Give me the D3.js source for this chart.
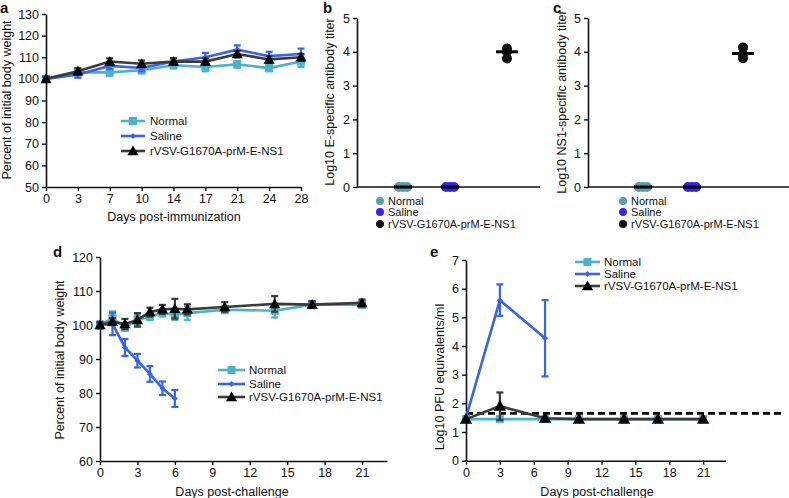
<!DOCTYPE html>
<html><head><meta charset="utf-8">
<script src="https://cdn.jsdelivr.net/npm/d3@7"></script>
<style>
body{margin:0;background:#fff;}
svg{font-family:"Liberation Sans",Arial,Helvetica,sans-serif;}
text{fill:#111;}
</style></head>
<body><svg id="c" width="789" height="498"></svg>
<script>
// ---------- DATA ----------
const seriesNames = ["Normal","Saline","rVSV-G1670A-prM-E-NS1"];
// Panel a
const daysA = ["0","3","7","10","14","17","21","24","28"];
const aNormal = [100,103,103,104,106.3,105.5,106.7,105,108];
const aNormalErr = [1,1.5,1.5,1.5,1.5,2,1.5,1.5,2.5];
const aSaline = [100,102,106,105,108,110,113.5,110.5,111.5];
const aSalineErr = [1,1.5,1.5,1.5,1.5,2,2,2,2.5];
const aVsv = [100,103.5,108,107,108,108,111.5,109,110];
const aVsvErr = [1,1.5,1.5,1.5,1.5,1.5,1.5,1.5,1.5];
const aYTicks = [50,60,70,80,90,100,110,120,130];
// Panel b / c
const groupsBC = ["Normal","Saline","rVSV"];
const bNormal = [0,0,0], bSaline = [0,0,0], bVsv = [4.1,4.0,3.8];
const bMeans = [0,0,4.0];
const cNormal = [0,0,0], cSaline = [0,0,0], cVsv = [4.13,3.93,3.81];
const cMeans = [0,0,3.95];
const bcYTicks = [0,1,2,3,4,5];
// Panel d
const dDaysNormal = [0,1,2,3,4,5,6,7,10,14,17,21];
const dNormal = [100,102,99.3,101.5,102.5,103.5,103,103.5,104.5,104.2,106,106];
const dNormalErr = [1,2,1,1.5,1,1,1.5,2,1,2,1,1];
const dDaysSaline = [0,1,2,3,4,5,6];
const dSaline = [100,100.3,93.4,89.5,85.6,81.4,78.4];
const dSalineErr = [1,3.3,2.5,2,2.3,2,2.5];
const dDaysVsv = [0,1,2,3,4,5,6,7,10,14,17,21];
const dVsv = [100,101,100.3,101.5,103.8,104.6,104.8,104.6,105.3,106.2,106,106.5];
const dVsvErr = [0.8,1,1.5,2,1.3,1.3,2.9,1.5,1.4,2.3,1,1];
const dYTicks = [60,70,80,90,100,110,120];
const dXTicks = [0,3,6,9,12,15,18,21];
// Panel e
const eDaysNormal = [0,3,7,10,14,17,21];
const eNormal = [1.45,1.45,1.45,1.45,1.45,1.45,1.45];
const eDaysSaline = [0,3,7];
const eSaline = [1.5,5.6,4.27];
const eSalineErr = [0,0.55,1.33];
const eDaysVsv = [0,3,7,10,14,17,21];
const eVsv = [1.45,1.9,1.48,1.45,1.45,1.45,1.45];
const eVsvErr = [0,0.48,0,0,0,0,0];
const eLimit = 1.65;
const eYTicks = [0,1,2,3,4,5,6,7];
const eXTicks = [0,3,6,9,12,15,18,21];

// ---------- STYLE ----------
const colN = "#4bb2c9", colS = "#3a63e8", colV = "#3b3b3b";
const dotN = "#5a9ea8", dotS = "#3a1fe6", dotV = "#111";
const svg = d3.select("#c");
const fmt = d3.format("d");

function axisStyle(g){
  g.selectAll("path.domain").attr("stroke","#111").attr("stroke-width",1.6);
  g.selectAll(".tick line").attr("stroke","#111").attr("stroke-width",1.4);
  g.selectAll(".tick text").attr("fill","#111").style("font-size","12.5px").style("font-family","Liberation Sans, Arial, sans-serif");
}
function marker(g, type, x, y, color, s){
  if(type==="square") g.append("rect").attr("x",x-s/2).attr("y",y-s/2).attr("width",s).attr("height",s).attr("fill",color);
  else if(type==="diamond") g.append("path").attr("d",`M${x},${y-s/2}L${x+s/2},${y}L${x},${y+s/2}L${x-s/2},${y}Z`).attr("fill",color);
  else if(type==="triangle") g.append("path").attr("d",d3.symbol(d3.symbolTriangle, s*s*0.55)()).attr("transform",`translate(${x},${y+1})`).attr("fill","#000");
}
function drawSeries(g, xs, ys, errs, x, y, color, type, size){
  const line = d3.line().x((d,i)=>x(xs[i])).y(d=>y(d));
  if(errs){
    ys.forEach((v,i)=>{
      if(!errs[i]) return;
      const px = x(xs[i]);
      g.append("line").attr("x1",px).attr("x2",px).attr("y1",y(v-errs[i])).attr("y2",y(v+errs[i])).attr("stroke",color).attr("stroke-width",2.2);
      [v-errs[i],v+errs[i]].forEach(e=>g.append("line").attr("x1",px-3.5).attr("x2",px+3.5).attr("y1",y(e)).attr("y2",y(e)).attr("stroke",color).attr("stroke-width",2.2));
    });
  }
  g.append("path").datum(ys).attr("d",line).attr("fill","none").attr("stroke",color).attr("stroke-width",2.6);
  ys.forEach((v,i)=>marker(g,type,x(xs[i]),y(v),color,size));
}
function legend(g, x0, x1, tx, ys, fs){
  const types=["square","diamond","triangle"], cols=[colN,colS,colV], sizes=[8,6,10];
  seriesNames.forEach((n,i)=>{
    g.append("line").attr("x1",x0).attr("x2",x1).attr("y1",ys[i]).attr("y2",ys[i]).attr("stroke",cols[i]).attr("stroke-width",2.6);
    marker(g,types[i],(x0+x1)/2,ys[i],cols[i],sizes[i]);
    g.append("text").attr("x",tx).attr("y",ys[i]).attr("dy","0.35em").style("font-size",fs+"px").text(n);
  });
}
function label(txt,x,y){ svg.append("text").attr("x",x).attr("y",y).style("font-size","15px").style("font-weight","bold").text(txt); }
function ylab(txt,x,y){ svg.append("text").attr("transform",`translate(${x},${y}) rotate(-90)`).attr("text-anchor","middle").style("font-size","12.5px").text(txt); }
function xlab(txt,x,y){ svg.append("text").attr("x",x).attr("y",y).attr("text-anchor","middle").style("font-size","12.5px").text(txt); }

// ---------- PANEL A ----------
{
  const x = d3.scalePoint().domain(daysA).range([46,301]);
  const y = d3.scaleLinear().domain([50,130]).range([187,14]);
  const g = svg.append("g");
  g.append("g").attr("transform","translate(0,187)").call(d3.axisBottom(x).tickSize(4).tickPadding(3).tickSizeOuter(0)).call(axisStyle);
  g.append("g").attr("transform","translate(46,0)").call(d3.axisLeft(y).tickValues(aYTicks).tickFormat(fmt).tickSize(4).tickPadding(3).tickSizeOuter(0)).call(axisStyle);
  drawSeries(g,daysA,aNormal,aNormalErr,x,y,colN,"square",8);
  drawSeries(g,daysA,aSaline,aSalineErr,x,y,colS,"diamond",6);
  drawSeries(g,daysA,aVsv,aVsvErr,x,y,colV,"triangle",10);
  legend(g,121,145,150,[121,136,151],11.5);
  label("a",0,13);
  ylab("Percent of initial body weight",11,100);
  xlab("Days post-immunization",174,221);
}

// ---------- PANEL B / C ----------
function dotPanel(ax, axEnd, xs, normal, saline, vsv, means, letter, lettX, yTitle, yTitleX, legX){
  const x = d3.scaleOrdinal().domain(groupsBC).range(xs);
  const y = d3.scaleLinear().domain([0,5]).range([187,18]);
  const g = svg.append("g");
  g.append("g").attr("transform",`translate(${ax},0)`).call(d3.axisLeft(y).tickValues(bcYTicks).tickFormat(fmt).tickSize(4).tickPadding(3).tickSizeOuter(0)).call(axisStyle);
  g.append("line").attr("x1",ax).attr("x2",axEnd).attr("y1",187).attr("y2",187).attr("stroke","#111").attr("stroke-width",1.6);
  const sets=[normal,saline,vsv], cols=[dotN,dotS,dotV], offs=[-4,0,4];
  groupsBC.forEach((gname,gi)=>{
    sets[gi].forEach((v,i)=>{
      const dx = gi<2 ? offs[i] : 0;
      g.append("circle").attr("cx",x(gname)+dx).attr("cy",y(v)).attr("r",5).attr("fill",cols[gi]);
    });
    const w = gi<2 ? 9 : 11;
    g.append("line").attr("x1",x(gname)-w).attr("x2",x(gname)+w).attr("y1",y(means[gi])).attr("y2",y(means[gi])).attr("stroke","#000").attr("stroke-width",3);
  });
  seriesNames.forEach((n,i)=>{
    const yy=[201,212,224][i];
    g.append("circle").attr("cx",legX).attr("cy",yy).attr("r",4).attr("fill",cols[i]);
    g.append("text").attr("x",legX+8).attr("y",yy).attr("dy","0.35em").style("font-size","11px").text(n);
  });
  label(letter,lettX,13);
  ylab(yTitle,yTitleX,102);
}
dotPanel(357,540,[403,450,507],bNormal,bSaline,bVsv,bMeans,"b",323,"Log10 E-specific antibody titer",334,380);
dotPanel(588,789,[643,692,743],cNormal,cSaline,cVsv,cMeans,"c",553,"Log10 NS1-specific antibody titer",566,623);

// ---------- PANEL D ----------
{
  const x = d3.scaleLinear().domain([0,23]).range([100,387]);
  const y = d3.scaleLinear().domain([60,120]).range([461,257]);
  const g = svg.append("g");
  g.append("g").attr("transform","translate(0,461)").call(d3.axisBottom(x).tickValues(dXTicks).tickFormat(fmt).tickSize(4).tickPadding(3).tickSizeOuter(0)).call(axisStyle);
  g.append("g").attr("transform","translate(100,0)").call(d3.axisLeft(y).tickValues(dYTicks).tickFormat(fmt).tickSize(4).tickPadding(3).tickSizeOuter(0)).call(axisStyle);
  drawSeries(g,dDaysNormal,dNormal,dNormalErr,x,y,colN,"square",8);
  drawSeries(g,dDaysSaline,dSaline,dSalineErr,x,y,colS,"diamond",6);
  drawSeries(g,dDaysVsv,dVsv,dVsvErr,x,y,colV,"triangle",10);
  legend(g,218,245,249,[370,384,397],11.5);
  label("d",53,257);
  ylab("Percent of initial body weight",64,360);
  xlab("Days post-challenge",232,496);
}

// ---------- PANEL E ----------
{
  const x = d3.scaleLinear().domain([0,23]).range([466,725.7]);
  const y = d3.scaleLinear().domain([0,7]).range([460.7,260]);
  const g = svg.append("g");
  g.append("g").attr("transform","translate(0,460.7)").call(d3.axisBottom(x).tickValues(eXTicks).tickFormat(fmt).tickSize(4).tickPadding(3).tickSizeOuter(0)).call(axisStyle);
  g.append("g").attr("transform","translate(466,0)").call(d3.axisLeft(y).tickValues(eYTicks).tickFormat(fmt).tickSize(4).tickPadding(3).tickSizeOuter(0)).call(axisStyle);
  drawSeries(g,eDaysNormal,eNormal,null,x,y,colN,"square",8);
  g.append("line").attr("x1",x(0)).attr("x2",783).attr("y1",y(eLimit)).attr("y2",y(eLimit)).attr("stroke","#000").attr("stroke-width",2.6).attr("stroke-dasharray","7,4");
  drawSeries(g,eDaysSaline,eSaline,eSalineErr,x,y,colS,"diamond",6);
  drawSeries(g,eDaysVsv,eVsv,eVsvErr,x,y,colV,"triangle",11);
  legend(g,575,600,604,[262,274,286],11.5);
  label("e",430,257);
  ylab("Log10 PFU equivalents/ml",444,377);
  xlab("Days post-challenge",597,496);
}
</script></body></html>
